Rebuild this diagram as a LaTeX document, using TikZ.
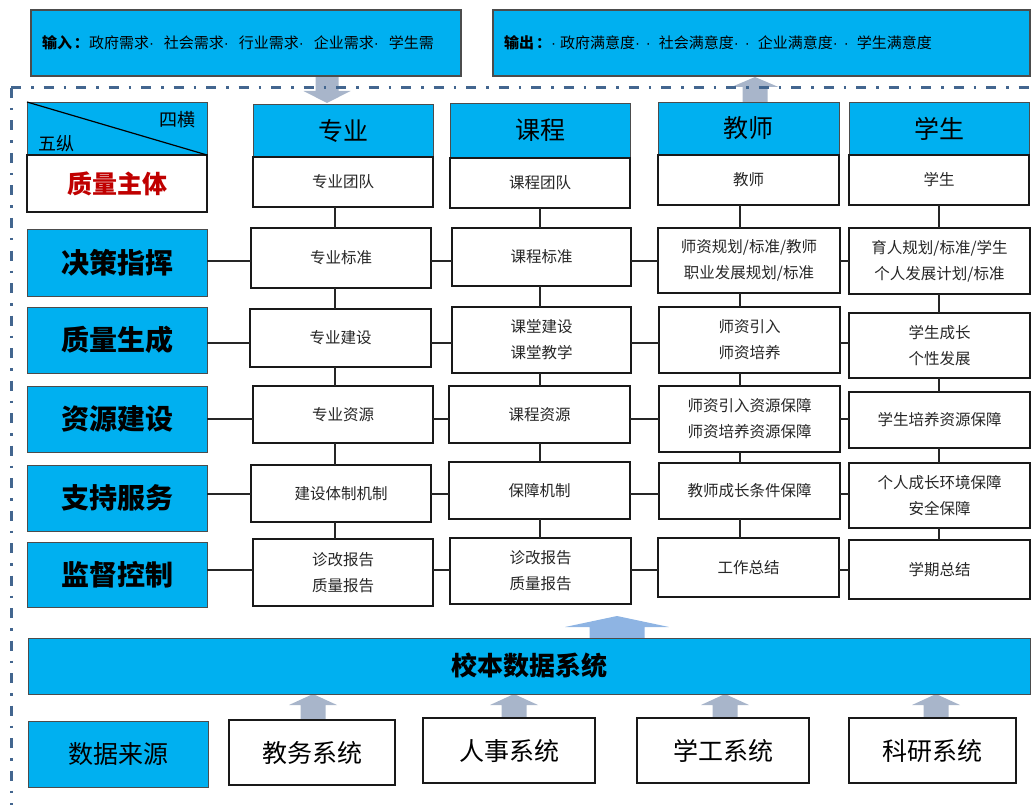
\documentclass[tikz,border=0pt]{standalone}
\usepackage{fontspec}
\setmainfont{Noto Sans CJK SC}
\newfontfamily\latinf{Liberation Sans}
\newcommand\md{{\latinf ·}}
\usetikzlibrary{calc}
\definecolor{skyb}{HTML}{00B0F0}
\definecolor{arrg}{HTML}{A8B5CA}
\definecolor{arrb}{HTML}{8EB4E3}
\definecolor{dashc}{HTML}{43668F}
\definecolor{redq}{HTML}{C00000}
\definecolor{txt}{HTML}{262626}
% style, name, x1, y1, x2, y2, text
\newcommand\boxnode[7]{\node[#1, minimum width={#5-#3}, minimum height={#6-#4}] (#2) at ({(#3+#5)/2},{(#4+#6)/2}) {#7};}
% fat arrow: cx, ytail, ytip, yheadbase, bodyw, headw, colour
\newcommand\fatarrow[7]{\fill[#7] ({#1-#5/2},#2) -- ({#1-#5/2},#4) -- ({#1-#6/2},#4) -- (#1,#3) -- ({#1+#6/2},#4) -- ({#1+#5/2},#4) -- ({#1+#5/2},#2) -- cycle;}
\tikzset{
  base/.style={inner sep=0pt, outer sep=0pt, align=center, text=txt},
  bluebox/.style={base, draw=black!70, fill=skyb, line width=0.9pt, text=black},
  cell/.style={base, draw=black!90, fill=white, line width=1.3pt, font=\fontsize{15.5}{26}\selectfont},
  rowlab/.style={bluebox, font=\fontsize{28}{30}\selectfont\bfseries},
  hdr/.style={bluebox, font=\fontsize{25}{27}\selectfont},
  topbox/.style={bluebox, line width=1.1pt},
  toptext/.style={base, anchor=west, text=black, font=\fontsize{15}{18}\selectfont},
  srcbox/.style={base, draw=black!90, fill=white, line width=1.3pt, text=black, font=\fontsize{25}{28}\selectfont},
  conn/.style={line width=1.2pt, draw=black!85},
  dashln/.style={draw=dashc, line width=3pt, dash pattern=on 10pt off 10pt on 2.5pt off 10pt}
}
\begin{document}
\begin{tikzpicture}[x=1pt,y=-1pt]
\useasboundingbox (0,0) rectangle (1036,805);
% fat arrows (under the dash line)
\fatarrow{327}{77}{103}{91}{23}{47}{arrg}
\fatarrow{755}{102}{77}{87}{25}{47}{arrg}
\fatarrow{617}{638}{616}{627}{55}{104}{arrb}
\fatarrow{313}{719}{694}{705}{25}{48}{arrg}
\fatarrow{514}{719}{694}{705}{25}{48}{arrg}
\fatarrow{725}{719}{694}{705}{25}{48}{arrg}
\fatarrow{936}{719}{694}{705}{25}{48}{arrg}
% top boxes
\boxnode{topbox}{inp}{31}{10}{461}{76}{}
\node[toptext] (intext) at ([xshift=11pt]inp.west) {\textbf{输入\hspace{2pt}：}政府需求\md\hspace{10pt}社会需求\md\hspace{10pt}行业需求\md\hspace{10pt}企业需求\md\hspace{10pt}学生需};
\boxnode{topbox}{outp}{493}{10}{1030}{76}{}
\node[toptext] (outtext) at ([xshift=11pt]outp.west) {\textbf{输出\hspace{2pt}：}\md\hspace{4pt}政府满意度\md\hspace{6pt}\md\hspace{8pt}社会满意度\md\hspace{6pt}\md\hspace{8pt}企业满意度\md\hspace{6pt}\md\hspace{8pt}学生满意度};
% dash-dot frame
\coordinate (fc) at (11,88);
\coordinate (fr) at (1036,88);
\coordinate (fb) at (11,805);
\draw[dashln] (fc) -- (fr);
\draw[dashln] (fc) -- (fb);
% corner box
\boxnode{bluebox}{ctop}{27}{102}{207}{155}{}
\boxnode{cell}{cbot}{27}{155}{207}{212}{\fontsize{25}{28}\selectfont\bfseries\color{redq}质量主体}
\draw[line width=1.2pt] (ctop.north west) -- (ctop.south east);
\node[base, text=black, font=\fontsize{18}{20}\selectfont] (sih) at (177,120) {四横};
\node[base, text=black, font=\fontsize{18}{20}\selectfont] (wuz) at (56,144) {五纵};
% headers
\boxnode{hdr}{h1}{253}{104}{433}{157}{专业}
\boxnode{cell}{hw1}{253}{157}{433}{207}{专业团队}
\boxnode{hdr}{h2}{450}{103}{630}{158}{课程}
\boxnode{cell}{hw2}{450}{158}{630}{208}{课程团队}
\boxnode{hdr}{h3}{658}{102}{839}{155}{教师}
\boxnode{cell}{hw3}{658}{155}{839}{205}{教师}
\boxnode{hdr}{h4}{849}{102}{1029}{155}{学生}
\boxnode{cell}{hw4}{849}{155}{1029}{205}{学生}
% row labels
\boxnode{rowlab}{L1}{27}{229}{207}{296}{决策指挥}
\boxnode{rowlab}{L2}{27}{307}{207}{373}{质量生成}
\boxnode{rowlab}{L3}{27}{386}{207}{452}{资源建设}
\boxnode{rowlab}{L4}{27}{465}{207}{531}{支持服务}
\boxnode{rowlab}{L5}{27}{542}{207}{607}{监督控制}
% column 1
\boxnode{cell}{c11}{251}{228}{431}{288}{专业标准}
\boxnode{cell}{c12}{250}{309}{431}{367}{专业建设}
\boxnode{cell}{c13}{253}{386}{433}{443}{专业资源}
\boxnode{cell}{c14}{251}{465}{431}{522}{建设体制机制}
\boxnode{cell}{c15}{253}{539}{433}{606}{诊改报告\\质量报告}
% column 2
\boxnode{cell}{c21}{452}{228}{631}{286}{课程标准}
\boxnode{cell}{c22}{452}{307}{631}{373}{课堂建设\\课堂教学}
\boxnode{cell}{c23}{449}{386}{630}{443}{课程资源}
\boxnode{cell}{c24}{449}{462}{630}{519}{保障机制}
\boxnode{cell}{c25}{450}{538}{631}{604}{诊改报告\\质量报告}
% column 3
\boxnode{cell}{c31}{658}{228}{840}{293}{师资规划/标准/教师\\职业发展规划/标准}
\boxnode{cell}{c32}{659}{307}{840}{373}{师资引入\\师资培养}
\boxnode{cell}{c33}{659}{386}{840}{452}{师资引入资源保障\\师资培养资源保障}
\boxnode{cell}{c34}{659}{463}{840}{519}{教师成长条件保障}
\boxnode{cell}{c35}{658}{538}{839}{597}{工作总结}
% column 4
\boxnode{cell}{c41}{849}{228}{1030}{294}{育人规划/标准/学生\\个人发展计划/标准}
\boxnode{cell}{c42}{849}{313}{1030}{378}{学生成长\\个性发展}
\boxnode{cell}{c43}{849}{392}{1030}{448}{学生培养资源保障}
\boxnode{cell}{c44}{849}{463}{1030}{528}{个人成长环境保障\\安全保障}
\boxnode{cell}{c45}{849}{540}{1030}{599}{学期总结}
% connector guides
\coordinate (r1) at (0,261);
\coordinate (r2) at (0,343);
\coordinate (r3) at (0,419);
\coordinate (r4) at (0,494);
\coordinate (r5) at (0,570);
\coordinate (v1) at (335,0);
\coordinate (v2) at (540,0);
\coordinate (v3) at (740,0);
\coordinate (v4) at (939,0);
\foreach \r in {1,...,5}{
  \draw[conn] (L\r.east |- r\r) -- (c1\r.west |- r\r);
  \draw[conn] (c1\r.east |- r\r) -- (c2\r.west |- r\r);
  \draw[conn] (c2\r.east |- r\r) -- (c3\r.west |- r\r);
  \draw[conn] (c3\r.east |- r\r) -- (c4\r.west |- r\r);
}
\foreach \c in {1,...,4}{
  \draw[conn] (hw\c.south -| v\c) -- (c\c1.north -| v\c);
  \foreach \r/\s in {1/2,2/3,3/4,4/5}{
    \draw[conn] (c\c\r.south -| v\c) -- (c\c\s.north -| v\c);
  }
}
% data system
\boxnode{bluebox, font=\fontsize{26}{28}\selectfont\bfseries}{db}{28}{638}{1030}{694}{校本数据系统}
\boxnode{bluebox, font=\fontsize{25}{28}\selectfont}{src}{28}{721}{208}{787}{数据来源}
\boxnode{srcbox}{b1}{229}{720}{395}{785}{教务系统}
\boxnode{srcbox}{b2}{423}{718}{595}{783}{人事系统}
\boxnode{srcbox}{b3}{637}{718}{809}{783}{学工系统}
\boxnode{srcbox}{b4}{849}{718}{1016}{783}{科研系统}
\end{tikzpicture}
\end{document}
